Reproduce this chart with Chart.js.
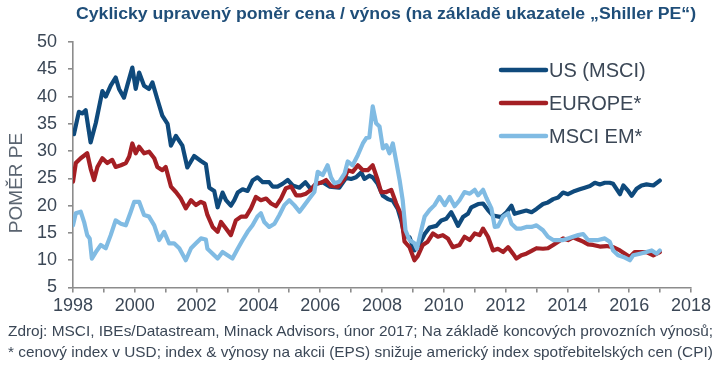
<!DOCTYPE html>
<html>
<head>
<meta charset="utf-8">
<script src="https://cdn.jsdelivr.net/npm/chart.js@4.4.1/dist/chart.umd.min.js"></script>
<style>
  html, body { margin: 0; padding: 0; background: #fff; }
  #wrap { position: relative; width: 719px; height: 365px; overflow: hidden; font-family: "Liberation Sans", Arial, sans-serif; }
  #chart { position: absolute; left: 0; top: 0; }
  .title { position: absolute; left: 76px; top: 5px; font-weight: bold; font-size: 16px; color: #1f4e79; white-space: nowrap; transform-origin: 0 0; }
  .note { position: absolute; left: 8px; font-size: 15px; color: #3b4756; white-space: nowrap; transform-origin: 0 0; line-height: 18px; }
</style>
</head>
<body>
<div id="wrap">
  <canvas id="chart" width="719" height="365"></canvas>
  <div class="title" id="title">Cyklicky upravený poměr cena / výnos (na základě ukazatele „Shiller PE“)</div>
  <div class="note" id="note1" style="top:322px">Zdroj: MSCI, IBEs/Datastream, Minack Advisors, únor 2017; Na základě koncových provozních výnosů;</div>
  <div class="note" id="note2" style="top:343px">* cenový index v USD; index &amp; výnosy na akcii (EPS) snižuje americký index spotřebitelských cen (CPI)</div>
</div>
<script>
  "use strict";

  // ---- data ----
  const seriesLabels = ["US (MSCI)", "EUROPE*", "MSCI EM*"];

  const usYears = [1998.03, 1998.19, 1998.30, 1998.41, 1998.57, 1998.74, 1998.95, 1999.06, 1999.22, 1999.38,
    1999.49, 1999.65, 1999.76, 1999.92, 2000.03, 2000.14, 2000.30, 2000.46, 2000.57, 2000.73,
    2000.89, 2001.06, 2001.17, 2001.33, 2001.54, 2001.70, 2001.92, 2002.14, 2002.30, 2002.41,
    2002.57, 2002.68, 2002.84, 2002.95, 2003.11, 2003.22, 2003.33, 2003.49, 2003.65, 2003.81,
    2003.97, 2004.14, 2004.35, 2004.46, 2004.62, 2004.78, 2004.95, 2005.11, 2005.33, 2005.52,
    2005.70, 2005.87, 2006.08, 2006.30, 2006.62, 2006.84, 2007.00, 2007.16, 2007.33, 2007.43,
    2007.59, 2007.70, 2007.86, 2008.03, 2008.19, 2008.35, 2008.51, 2008.62, 2008.73, 2008.89,
    2009.05, 2009.22, 2009.38, 2009.54, 2009.76, 2009.92, 2010.08, 2010.24, 2010.35, 2010.46,
    2010.62, 2010.78, 2010.89, 2011.11, 2011.27, 2011.43, 2011.59, 2011.86, 2012.03, 2012.19,
    2012.29, 2012.46, 2012.67, 2012.84, 2013.00, 2013.21, 2013.37, 2013.54, 2013.70, 2013.86,
    2014.02, 2014.24, 2014.40, 2014.56, 2014.73, 2014.89, 2015.05, 2015.21, 2015.37, 2015.48,
    2015.70, 2015.81, 2015.97, 2016.08, 2016.24, 2016.40, 2016.56, 2016.78, 2016.99];
  const usPE = [33.1, 37.2, 36.9, 37.5, 31.6, 35.2, 41.0, 40.0, 42.0, 43.5,
    41.4, 39.8, 42.1, 45.3, 41.4, 44.4, 42.0, 41.4, 42.6, 39.5,
    36.5, 35.0, 31.0, 32.8, 31.0, 27.0, 29.1, 28.2, 27.6, 23.3,
    22.7, 19.7, 22.4, 21.0, 20.0, 21.0, 22.4, 23.0, 22.7, 24.6,
    25.2, 24.3, 24.3, 23.5, 23.5, 24.0, 24.7, 23.7, 23.3, 24.3,
    23.0, 24.0, 24.3, 23.5, 23.3, 25.1, 24.9, 25.2, 26.1, 24.9,
    25.5, 25.2, 24.0, 21.8, 21.2, 20.9, 19.4, 17.3, 14.5, 14.2,
    11.8, 13.0, 14.8, 16.0, 16.3, 17.3, 17.6, 18.8, 17.6, 16.3,
    17.9, 18.5, 19.7, 20.3, 20.4, 19.2, 18.2, 17.9, 18.8, 20.0,
    18.5, 18.8, 19.1, 18.8, 19.4, 20.3, 20.6, 21.2, 21.5, 22.4,
    22.1, 22.7, 23.0, 23.3, 23.6, 24.2, 23.9, 24.2, 24.2, 24.0,
    22.1, 23.7, 22.7, 21.8, 23.1, 23.7, 23.9, 23.7, 24.6];

  const euYears = [1998.00, 1998.09, 1998.25, 1998.46, 1998.57, 1998.68, 1998.79, 1998.95, 1999.11, 1999.27,
    1999.38, 1999.55, 1999.71, 1999.82, 1999.92, 2000.03, 2000.14, 2000.30, 2000.46, 2000.63,
    2000.73, 2000.89, 2001.00, 2001.17, 2001.33, 2001.49, 2001.65, 2001.82, 2001.98, 2002.14,
    2002.25, 2002.35, 2002.52, 2002.68, 2002.79, 2002.95, 2003.11, 2003.27, 2003.44, 2003.60,
    2003.76, 2003.92, 2004.08, 2004.25, 2004.41, 2004.57, 2004.73, 2004.89, 2005.06, 2005.22,
    2005.38, 2005.54, 2005.70, 2005.87, 2006.03, 2006.19, 2006.35, 2006.57, 2006.79, 2006.89,
    2007.05, 2007.22, 2007.38, 2007.54, 2007.70, 2007.86, 2007.97, 2008.14, 2008.30, 2008.46,
    2008.62, 2008.73, 2008.89, 2009.05, 2009.16, 2009.32, 2009.48, 2009.65, 2009.81, 2009.97,
    2010.13, 2010.29, 2010.51, 2010.67, 2010.84, 2011.00, 2011.16, 2011.27, 2011.43, 2011.59,
    2011.75, 2011.92, 2012.08, 2012.24, 2012.35, 2012.51, 2012.67, 2012.84, 2013.00, 2013.21,
    2013.37, 2013.54, 2013.70, 2013.86, 2014.02, 2014.18, 2014.35, 2014.51, 2014.67, 2014.83,
    2015.05, 2015.27, 2015.48, 2015.70, 2015.86, 2016.02, 2016.18, 2016.40, 2016.56, 2016.78,
    2016.99];
  const euPE = [24.4, 27.8, 28.7, 29.6, 26.8, 24.7, 27.1, 28.7, 27.8, 28.4,
    27.1, 27.4, 27.8, 29.0, 31.4, 29.6, 30.8, 29.6, 29.9, 28.7,
    27.1, 26.5, 27.1, 23.5, 22.5, 21.3, 19.5, 21.0, 20.1, 20.7,
    20.4, 18.3, 16.1, 15.2, 17.0, 15.8, 14.6, 17.3, 18.0, 18.0,
    19.5, 21.6, 21.0, 21.3, 20.4, 19.9, 21.3, 23.2, 23.5, 21.9,
    21.9, 22.2, 22.9, 24.1, 24.2, 24.7, 23.6, 23.5, 25.0, 26.5,
    26.2, 27.4, 26.5, 26.5, 27.4, 24.7, 22.5, 22.5, 22.9, 20.4,
    18.3, 13.4, 12.4, 10.0, 10.8, 12.8, 13.4, 14.9, 14.3, 14.6,
    14.0, 12.4, 12.8, 14.3, 13.7, 14.9, 14.6, 15.8, 14.3, 11.8,
    12.1, 11.5, 12.4, 11.2, 10.3, 10.9, 11.2, 11.7, 12.2, 12.1,
    12.2, 12.8, 13.4, 14.0, 13.7, 14.2, 13.8, 13.4, 12.9, 12.8,
    12.5, 12.6, 12.4, 11.8, 11.2, 10.6, 11.5, 11.5, 11.5, 10.9,
    11.5];

  const emYears = [1998.00, 1998.09, 1998.25, 1998.36, 1998.46, 1998.54, 1998.61, 1998.74, 1998.90, 1999.06,
    1999.22, 1999.38, 1999.55, 1999.71, 1999.87, 1999.98, 2000.14, 2000.30, 2000.46, 2000.63,
    2000.79, 2000.95, 2001.11, 2001.27, 2001.44, 2001.65, 2001.82, 2001.98, 2002.14, 2002.30,
    2002.35, 2002.52, 2002.68, 2002.84, 2003.00, 2003.16, 2003.33, 2003.49, 2003.65, 2003.81,
    2003.97, 2004.08, 2004.19, 2004.35, 2004.52, 2004.68, 2004.84, 2005.00, 2005.16, 2005.33,
    2005.49, 2005.65, 2005.81, 2005.92, 2006.08, 2006.24, 2006.35, 2006.46, 2006.62, 2006.79,
    2006.89, 2007.05, 2007.22, 2007.38, 2007.49, 2007.59, 2007.70, 2007.81, 2007.92, 2008.03,
    2008.14, 2008.24, 2008.35, 2008.46, 2008.57, 2008.67, 2008.76, 2008.89, 2009.05, 2009.13,
    2009.27, 2009.38, 2009.54, 2009.70, 2009.86, 2010.03, 2010.19, 2010.35, 2010.51, 2010.67,
    2010.84, 2011.00, 2011.11, 2011.27, 2011.38, 2011.54, 2011.65, 2011.75, 2011.92, 2012.08,
    2012.19, 2012.35, 2012.51, 2012.67, 2012.84, 2013.00, 2013.21, 2013.37, 2013.54, 2013.70,
    2013.86, 2014.02, 2014.18, 2014.35, 2014.51, 2014.67, 2014.83, 2015.00, 2015.21, 2015.37,
    2015.48, 2015.64, 2015.81, 2016.02, 2016.13, 2016.35, 2016.56, 2016.73, 2016.89, 2016.99];
  const emPE = [16.4, 18.6, 18.9, 17.0, 14.6, 14.0, 10.3, 11.5, 12.8, 12.2,
    14.6, 17.3, 16.7, 16.4, 18.9, 20.7, 20.7, 18.3, 18.0, 16.4,
    13.7, 15.2, 13.1, 13.1, 12.2, 10.0, 12.2, 13.1, 14.0, 13.8,
    12.1, 11.2, 10.3, 11.5, 10.9, 10.3, 12.1, 13.7, 15.2, 16.4,
    18.0, 18.6, 17.0, 16.1, 16.7, 18.3, 20.1, 21.0, 20.1, 18.9,
    20.1, 21.3, 22.5, 26.2, 25.6, 27.4, 25.2, 24.1, 24.4, 25.9,
    28.1, 27.4, 29.3, 31.4, 32.4, 32.5, 38.2, 35.1, 34.5, 30.5,
    31.1, 29.6, 31.4, 28.1, 24.7, 21.0, 15.5, 13.7, 13.1, 12.1,
    15.5, 18.0, 19.2, 20.1, 21.6, 20.1, 21.6, 19.9, 21.0, 22.5,
    22.2, 22.9, 21.9, 22.9, 21.4, 19.5, 16.1, 16.2, 18.0, 18.6,
    16.7, 15.8, 15.8, 16.1, 16.1, 16.4, 15.5, 14.3, 13.7, 13.7,
    13.7, 14.0, 14.3, 14.6, 14.8, 13.7, 13.7, 13.7, 14.0, 13.4,
    11.8, 10.9, 10.6, 10.0, 10.9, 11.2, 11.5, 11.8, 11.2, 11.8];

  const xMin = 1998, xMax = 2018;
  const yMin = 5, yMax = 50, yStep = 5;

  const COLORS = { us: "#0f4a7c", eu: "#a41f24", em: "#80bbe3", axis: "#8c8c8c", text: "#3b4756" };

  const pts = (xs, ys) => xs.map((x, i) => ({ x: x, y: ys[i] }));

  function lineDataset(label, data, color, order) {
    return {
      label, data, borderColor: color, backgroundColor: color, borderWidth: 4.2,
      pointRadius: 0, tension: 0, fill: false, order,
      borderJoinStyle: "round", borderCapStyle: "round",
    };
  }

  // legend + y-title drawn by hand to sit where the reference has them
  const extras = {
    id: "extras",
    afterDraw(chart) {
      const ctx = chart.ctx;
      ctx.save();
      const rows = [
        { label: seriesLabels[0], color: COLORS.us, y: 70 },
        { label: seriesLabels[1], color: COLORS.eu, y: 103 },
        { label: seriesLabels[2], color: COLORS.em, y: 136 },
      ];
      ctx.font = '20px "Liberation Sans", Arial, sans-serif';
      ctx.textBaseline = "middle";
      rows.forEach((r) => {
        ctx.strokeStyle = r.color;
        ctx.lineWidth = 4.5;
        ctx.lineCap = "round";
        ctx.beginPath();
        ctx.moveTo(501, r.y);
        ctx.lineTo(546, r.y);
        ctx.stroke();
        ctx.fillStyle = COLORS.text;
        ctx.fillText(r.label, 549, r.y + 1);
      });
      ctx.translate(17, 183);
      ctx.rotate(-Math.PI / 2);
      ctx.textAlign = "center";
      ctx.font = '19px "Liberation Sans", Arial, sans-serif';
      ctx.fillStyle = "#5a6470";
      ctx.fillText("POMĚR PE", 0, 0);
      ctx.restore();
    },
  };

  new Chart(document.getElementById("chart"), {
    type: "line",
    data: {
      datasets: [
        lineDataset(seriesLabels[0], pts(usYears, usPE), COLORS.us, 3),
        lineDataset(seriesLabels[1], pts(euYears, euPE), COLORS.eu, 2),
        lineDataset(seriesLabels[2], pts(emYears, emPE), COLORS.em, 1),
      ],
    },
    options: {
      responsive: false,
      animation: false,
      events: [],
      layout: { padding: { top: 42, right: 28, left: 0, bottom: 0 } },
      plugins: { legend: { display: false }, tooltip: { enabled: false }, title: { display: false } },
      scales: {
        x: {
          type: "linear", min: xMin, max: xMax,
          afterFit: (s) => { s.height = 77.5; },
          border: { color: COLORS.axis, width: 1.6 },
          grid: { drawOnChartArea: false, drawTicks: true, tickLength: 5, color: COLORS.axis, lineWidth: 1.6 },
          ticks: {
            stepSize: 1, autoSkip: false, maxRotation: 0, padding: 3,
            color: COLORS.text, font: { family: '"Liberation Sans", Arial, sans-serif', size: 18 },
            callback: (v) => (v % 2 === 0 ? String(v) : ""),
          },
        },
        y: {
          min: yMin, max: yMax,
          afterFit: (s) => { s.width = 73; },
          border: { color: COLORS.axis, width: 1.6 },
          grid: { drawOnChartArea: false, drawTicks: true, tickLength: 5, color: COLORS.axis, lineWidth: 1.6 },
          ticks: {
            stepSize: yStep, padding: 11,
            color: COLORS.text, font: { family: '"Liberation Sans", Arial, sans-serif', size: 18 },
          },
        },
      },
    },
    plugins: [extras],
  });

  // squeeze the narrow-looking texts to the widths seen in the reference
  function fit(id, w) {
    const el = document.getElementById(id);
    el.style.transform = "scaleX(" + (w / el.offsetWidth) + ")";
  }
  fit("title", 620);
  fit("note1", 705);
  fit("note2", 705);
</script>
</body>
</html>
